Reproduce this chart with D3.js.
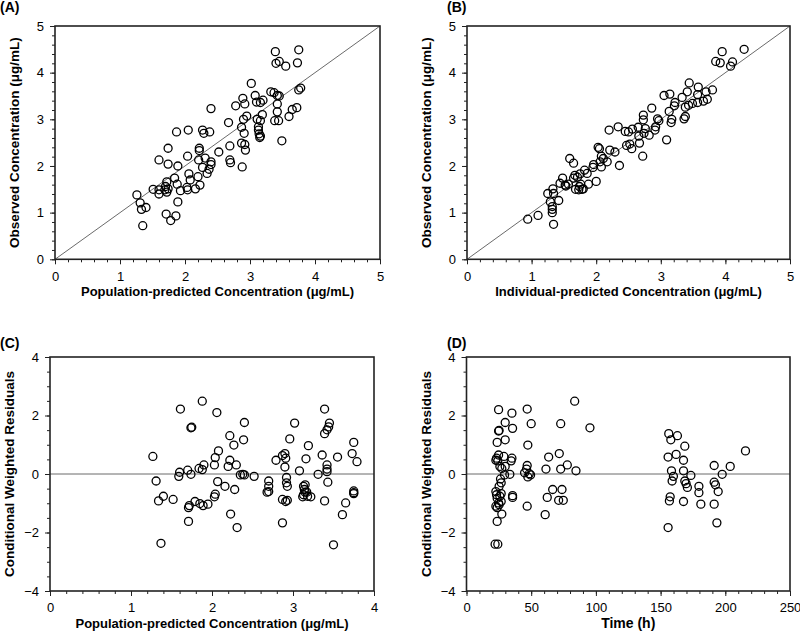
<!DOCTYPE html>
<html><head><meta charset="utf-8">
<script src="https://cdn.jsdelivr.net/npm/d3@7"></script>
<style>body{margin:0;background:#fff}svg{display:block}text{font-family:"Liberation Sans",Arial,sans-serif;fill:#000}</style>
</head><body><svg id="c" width="800" height="638"></svg>
<script>
// Panel A: population-predicted vs observed
const popPredA = [3.39,3.75,3.40,3.45,3.55,3.73,3.02,3.32,3.37,3.42,3.45,3.75,3.78,3.08,2.89,3.20,3.10,3.16,2.78,2.92,3.42,3.42,3.65,3.72,3.60,3.38,3.44,2.40,2.67,2.90,2.95,3.11,3.16,3.19,2.87,3.13,2.91,3.13,3.14,3.16,3.15,3.49,2.69,2.87,2.92,2.93,2.52,2.69,2.70,2.88,2.27,2.29,2.38,1.87,2.05,1.74,2.04,2.22,2.22,1.60,1.74,1.89,2.21,2.31,2.40,2.40,2.37,2.34,2.27,1.84,2.06,2.08,2.20,1.88,1.72,1.70,1.69,1.51,1.60,1.60,1.74,1.72,1.93,2.03,2.04,2.16,2.23,1.26,1.31,1.33,1.40,1.89,1.71,1.78,1.86,1.35];
const observedA = [4.45,4.49,4.20,4.24,4.14,4.21,3.77,3.59,3.57,3.51,3.50,3.63,3.67,3.51,3.45,3.41,3.37,3.36,3.29,3.33,3.33,3.16,3.21,3.25,3.06,2.97,2.97,3.23,2.93,3.00,3.07,3.00,2.97,3.10,2.83,2.84,2.70,2.77,2.69,2.64,2.61,2.54,2.43,2.49,2.46,2.34,2.30,2.13,2.07,1.98,2.77,2.70,2.73,2.73,2.77,2.38,2.21,2.38,2.33,2.13,2.04,2.00,2.13,2.17,2.09,2.03,1.93,1.84,1.97,1.74,1.83,1.70,1.77,1.61,1.66,1.56,1.49,1.50,1.49,1.40,1.51,1.44,1.47,1.54,1.49,1.51,1.59,1.38,1.21,1.07,1.11,1.23,0.97,0.83,0.93,0.72];

// Panel B: individual-predicted vs observed
const indPredB = [4.29,3.95,3.85,3.92,4.11,4.08,3.44,3.58,3.41,3.05,3.14,3.33,3.57,3.70,3.80,3.22,3.21,3.43,3.38,3.49,3.57,3.66,3.72,2.86,3.13,2.73,2.95,2.97,3.17,3.16,3.38,3.36,2.73,2.20,2.34,2.45,2.50,2.56,2.65,2.76,2.92,2.91,2.66,2.74,2.82,3.09,2.47,2.52,2.55,2.67,2.03,2.05,2.21,2.29,2.72,2.08,2.11,2.17,2.06,2.36,1.59,1.65,1.96,1.95,2.08,1.82,1.86,1.75,1.67,2.00,1.88,1.76,1.65,1.48,1.44,1.52,1.57,1.74,1.25,1.33,1.34,1.29,1.32,1.32,1.32,1.42,0.94,1.10,1.34,1.53,1.71,1.68,1.73,1.78,1.80];
const observedB = [4.50,4.45,4.24,4.21,4.23,4.14,3.78,3.69,3.59,3.51,3.54,3.47,3.53,3.59,3.63,3.36,3.29,3.30,3.26,3.34,3.36,3.39,3.43,3.24,3.17,3.09,3.01,2.97,3.00,2.93,3.06,3.01,2.99,2.77,2.84,2.74,2.73,2.79,2.83,2.80,2.84,2.77,2.64,2.70,2.66,2.56,2.44,2.47,2.37,2.49,2.40,2.37,2.34,2.30,2.21,2.21,2.16,2.09,2.09,2.01,2.16,2.06,2.03,1.97,1.98,1.91,1.84,1.83,1.80,1.67,1.61,1.61,1.74,1.74,1.63,1.59,1.61,1.56,1.41,1.51,1.41,1.23,1.13,1.07,1.00,1.26,0.86,0.94,0.75,1.57,1.76,1.50,1.49,1.50,1.51];

// Panel C: population-predicted vs CWRES
const popPredC = [1.27,1.61,1.88,2.06,1.74,1.75,2.40,2.22,2.39,2.27,2.08,2.04,2.22,2.20,2.30,2.03,1.90,1.88,1.84,1.70,1.60,1.59,1.74,2.35,2.38,2.40,2.52,1.31,2.07,2.16,2.28,1.40,1.34,1.52,2.04,2.03,1.79,1.85,1.89,1.95,1.72,1.71,1.71,2.23,2.31,1.37,3.39,3.45,3.44,3.42,3.39,3.02,2.96,3.19,3.75,2.90,2.87,2.79,2.91,3.16,3.36,3.55,3.73,3.79,2.90,3.08,3.42,3.42,3.42,3.31,3.43,2.70,2.70,2.68,2.70,2.92,2.92,2.93,2.87,2.91,2.93,2.87,3.13,3.15,3.14,3.15,3.13,3.18,3.12,3.22,3.17,3.39,3.65,3.75,3.75,3.75,3.61,3.50];
const cwresC = [0.60,2.22,2.49,2.10,1.58,1.60,1.76,1.31,1.17,0.99,0.79,0.56,0.47,0.26,0.31,0.31,0.31,0.15,0.19,0.13,0.06,-0.08,-0.01,-0.03,-0.01,-0.03,-0.08,-0.24,-0.26,-0.42,-0.53,-0.76,-0.92,-0.87,-0.69,-0.78,-0.94,-1.01,-1.08,-1.03,-1.08,-1.15,-1.62,-1.37,-1.83,-2.37,2.22,1.74,1.61,1.51,1.38,1.74,1.20,0.97,1.08,0.70,0.63,0.47,0.54,0.52,0.65,0.58,0.70,0.42,0.24,0.11,0.31,0.17,0.08,-0.01,-0.28,-0.24,-0.42,-0.62,-0.60,-0.12,-0.30,-0.42,-0.87,-0.94,-0.90,-1.67,-0.42,-0.37,-0.53,-0.62,-0.71,-0.76,-0.78,-0.78,-0.62,-0.92,-0.99,-0.58,-0.64,-0.67,-1.39,-2.42];

// Panel D: time vs CWRES
const timeD = [24.8,35.1,46.9,83.6,29.9,50.0,72.8,95.4,24.8,25.2,35.6,29.9,23.7,47.4,24.8,23.2,24.2,22.7,28.9,35.1,34.5,25.8,27.3,29.9,29.4,33.5,46.9,46.4,44.9,48.5,49.5,47.4,63.5,61.4,71.7,72.8,77.9,84.6,26.3,26.8,25.2,22.7,23.2,23.7,25.8,26.8,24.8,26.8,22.7,23.7,25.2,35.6,35.6,46.9,66.6,62.4,73.8,71.2,74.8,27.3,60.8,23.7,22.1,24.2,156.3,157.9,163.0,168.7,155.8,162.0,167.7,215.6,191.4,203.8,158.4,159.9,158.9,167.7,173.4,197.6,168.7,169.7,170.7,179.6,179.6,191.4,192.4,194.5,157.4,156.8,167.7,181.1,191.4,155.8,193.5];
const cwresD = [2.20,2.08,2.22,2.49,1.76,1.72,1.72,1.58,1.47,1.49,1.56,1.17,1.08,0.99,0.65,0.54,0.45,0.47,0.60,0.54,0.45,0.26,0.19,0.26,-0.03,-0.01,0.29,0.17,0.04,0.01,-0.03,-0.10,0.58,0.17,0.70,0.17,0.31,0.11,-0.17,-0.30,-0.42,-0.60,-0.71,-0.83,-0.76,-0.67,-0.99,-0.94,-1.10,-1.15,-1.05,-0.74,-0.80,-1.10,-0.53,-0.80,-0.53,-0.90,-0.90,-1.37,-1.39,-1.62,-2.40,-2.40,1.38,1.17,1.31,0.95,0.58,0.67,0.47,0.79,0.29,0.26,0.11,-0.08,-0.24,0.11,-0.05,-0.01,-0.24,-0.33,-0.46,-0.42,-0.64,-0.28,-0.37,-0.60,-0.78,-0.92,-0.94,-1.03,-1.03,-1.83,-1.67];

const concTicks = [0,1,2,3,4,5];
const resTicks = [-4,-2,0,2,4];
const predCTicks = [0,1,2,3,4];
const timeTicks = [0,50,100,150,200,250];

const svg = d3.select("#c");

function panel(o){
  const g = svg.append("g");
  const x = d3.scaleLinear().domain(o.xd).range([o.l,o.r]);
  const y = d3.scaleLinear().domain(o.yd).range([o.b,o.t]);
  const xMinor = d3.range(o.xd[0], o.xd[1]+1e-9, o.xm);
  const yMinor = d3.range(o.yd[0], o.yd[1]+1e-9, o.ym);
  const fmt = d3.format("d");
  const style = s => { s.select(".domain").remove(); s.selectAll("line").attr("stroke","#222").attr("stroke-width",1); s.selectAll("text").attr("font-size",13).attr("font-family","'Liberation Sans',Arial,sans-serif").attr("fill","#000"); };
  g.append("g").attr("transform",`translate(0,${o.b})`).call(d3.axisBottom(x).tickValues(xMinor).tickSize(3).tickFormat("")).call(style);
  g.append("g").attr("transform",`translate(0,${o.b})`).call(d3.axisBottom(x).tickValues(o.xt).tickSize(5).tickPadding(7).tickFormat(fmt)).call(style);
  g.append("g").attr("transform",`translate(${o.l},0)`).call(d3.axisLeft(y).tickValues(yMinor).tickSize(3).tickFormat("")).call(style);
  g.append("g").attr("transform",`translate(${o.l},0)`).call(d3.axisLeft(y).tickValues(o.yt).tickSize(5).tickPadding(6).tickFormat(fmt)).call(style);
  if(o.ref==="diag"){
    g.append("line").attr("x1",x(o.xd[0])).attr("y1",y(o.yd[0])).attr("x2",x(o.xd[1])).attr("y2",y(o.yd[1])).attr("stroke","#444").attr("stroke-width",0.8);
  } else {
    g.append("line").attr("x1",x(o.xd[0])).attr("y1",y(0)).attr("x2",x(o.xd[1])).attr("y2",y(0)).attr("stroke","#444").attr("stroke-width",0.8);
  }
  g.append("rect").attr("x",o.l).attr("y",o.t).attr("width",o.r-o.l).attr("height",o.b-o.t).attr("fill","none").attr("stroke","#222").attr("stroke-width",1.6);
  g.append("g").selectAll("circle").data(o.xs.map((v,i)=>[v,o.ys[i]])).join("circle")
    .attr("cx",d=>x(d[0])).attr("cy",d=>y(d[1])).attr("r",4)
    .attr("fill","none").attr("stroke","#000").attr("stroke-width",1.3);
  g.append("text").attr("x",(o.l+o.r)/2).attr("y",o.b+37).attr("text-anchor","middle").attr("font-size",o.xfs).attr("font-weight","bold").text(o.xTitle);
  g.append("text").attr("transform",`translate(${o.l-36},${(o.t+o.b)/2}) rotate(-90)`).attr("text-anchor","middle").attr("font-size",13.5).attr("font-weight","bold").text(o.yTitle);
  g.append("text").attr("x",o.lx).attr("y",o.ly).attr("font-size",14).attr("font-weight","bold").text(o.label);
}

panel({l:55,r:380,t:26,b:259.3,xd:[0,5],yd:[0,5],xm:0.2,ym:0.2,xt:concTicks,yt:concTicks,ref:"diag",xfs:13,
  xs:popPredA,ys:observedA,xTitle:"Population-predicted Concentration (μg/mL)",yTitle:"Observed Concentration (μg/mL)",label:"(A)",lx:0,ly:12});
panel({l:467,r:790,t:26,b:259.3,xd:[0,5],yd:[0,5],xm:0.2,ym:0.2,xt:concTicks,yt:concTicks,ref:"diag",xfs:13,
  xs:indPredB,ys:observedB,xTitle:"Individual-predicted Concentration (μg/mL)",yTitle:"Observed Concentration (μg/mL)",label:"(B)",lx:447,ly:12});
panel({l:50,r:374,t:357,b:591,xd:[0,4],yd:[-4,4],xm:0.2,ym:0.5,xt:predCTicks,yt:resTicks,ref:"zero",xfs:13,
  xs:popPredC,ys:cwresC,xTitle:"Population-predicted Concentration (μg/mL)",yTitle:"Conditional Weighted Residuals",label:"(C)",lx:0,ly:348});
panel({l:466.5,r:790,t:357,b:591,xd:[0,250],yd:[-4,4],xm:10,ym:0.5,xt:timeTicks,yt:resTicks,ref:"zero",xfs:14,
  xs:timeD,ys:cwresD,xTitle:"Time (h)",yTitle:"Conditional Weighted Residuals",label:"(D)",lx:447,ly:348});
</script></body></html>
